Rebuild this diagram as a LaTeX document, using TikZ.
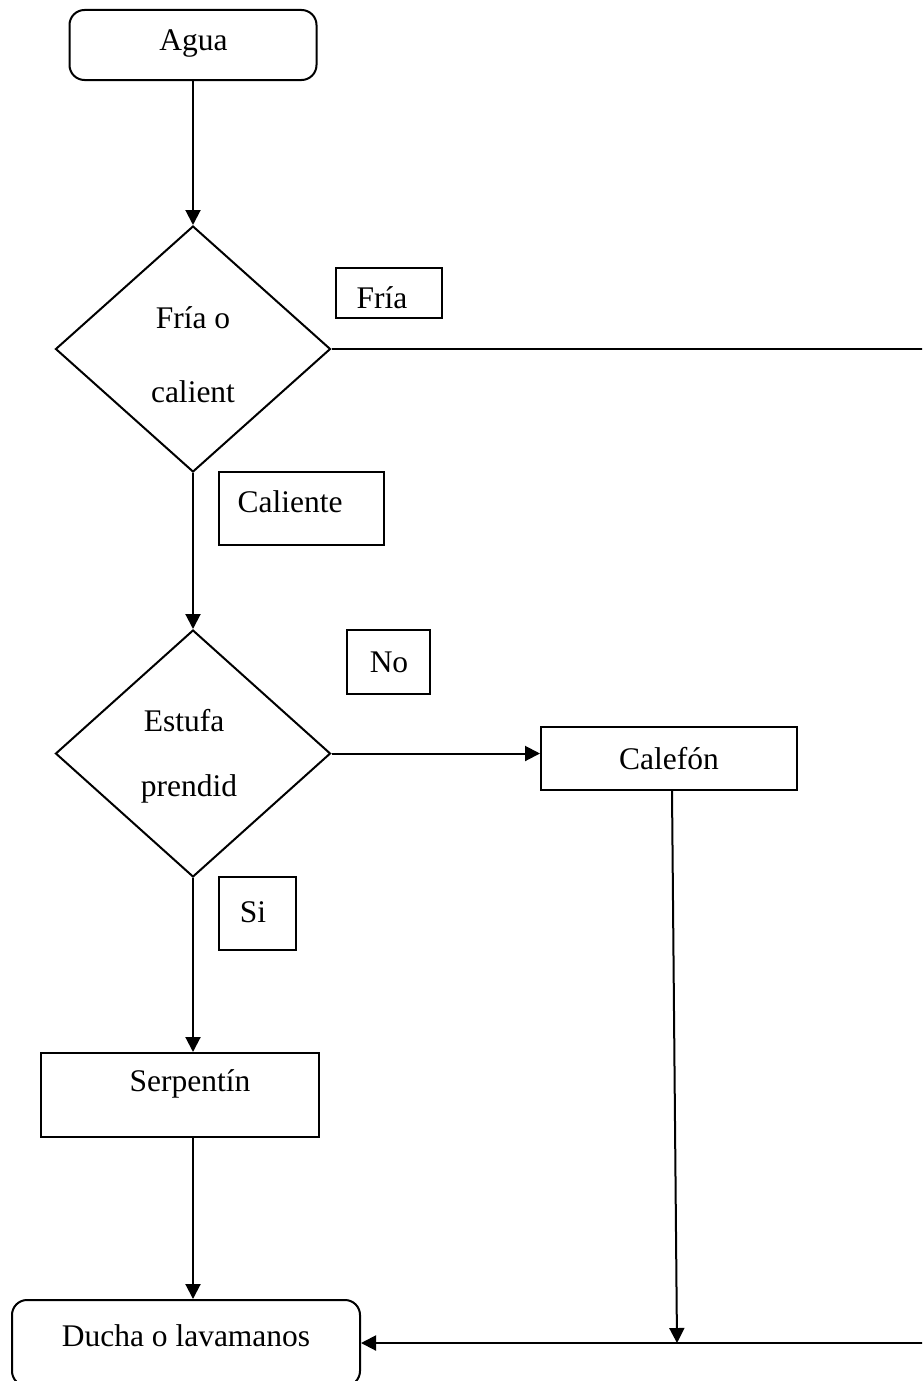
\documentclass[tikz,border=0pt]{standalone}
\usepackage{fontspec}
\setmainfont{Liberation Serif}
\usetikzlibrary{shapes.geometric,arrows.meta}
\begin{document}
\begin{tikzpicture}[x=1pt,y=-1pt,
  line width=2pt,
  txt/.style={inner sep=0pt,font=\fontsize{31.5}{38}\selectfont},
  term/.style={draw,rounded corners=15pt,inner sep=0pt},
  boxn/.style={draw,inner sep=0pt},
  dia/.style={draw,diamond,inner sep=0pt},
  arr/.style={-{Triangle[length=15pt,width=15pt]}}
]
\useasboundingbox (0,0) rectangle (922,1381);
\clip (0,0) rectangle (922,1381);
% shapes
\node[term,minimum width=247pt,minimum height=70pt] (agua) at (193,45) {};
\node[txt] (aguat) at (193.5,44) {Agua};
\node[dia,minimum width=275pt,minimum height=246pt] (d1) at (193,349) {};
\node[txt,align=center,font=\fontsize{31.5}{74}\selectfont] (d1t) at (193,355) {Fría o\\calient};
\node[boxn,minimum width=106pt,minimum height=50pt] (fria) at (389,293) {};
\node[txt] (friat) at (382,298) {Fría};
\node[boxn,minimum width=165pt,minimum height=73pt] (cal) at (301.5,508.5) {};
\node[txt] (calt) at (290,502) {Caliente};
\node[dia,minimum width=275pt,minimum height=247pt] (d2) at (193,753.5) {};
\node[txt,align=center,font=\fontsize{31.5}{65}\selectfont] (d2t) at (189,756) {\hspace*{-10pt}Estufa\\prendid};
\node[boxn,minimum width=83pt,minimum height=64pt] (no) at (388.5,662) {};
\node[txt] (not) at (389,662) {No};
\node[boxn,minimum width=256pt,minimum height=63pt] (calef) at (669,758.5) {};
\node[txt] (caleft) at (669,759) {Calefón};
\node[boxn,minimum width=77pt,minimum height=73pt] (si) at (257.5,913.5) {};
\node[txt] (sit) at (253,912) {Si};
\node[boxn,minimum width=278pt,minimum height=84pt] (serp) at (180,1095) {};
\node[txt] (serpt) at (190,1084) {Serpentín};
\node[term,minimum width=348pt,minimum height=86pt] (ducha) at (186,1343) {};
\node[txt] (duchat) at (186,1336) {Ducha o lavamanos};
% free ends
\coordinate (rtop) at (925,349);
\coordinate (rbot) at (925,1343);
\coordinate (calhit) at (677,1343);
% connectors
\draw[arr] (agua.south) -- (d1.north);
\draw (d1.east) -- (rtop);
\draw[arr] (d1.south) -- (d2.north);
\draw[arr] (d2.east) -- (d2.east -| calef.west);
\draw[arr] ([xshift=3pt]calef.south) -- (calhit);
\draw[arr] (d2.south) -- (serp.north -| d2.south);
\draw[arr] (serp.south -| d2.south) -- (ducha.north -| d2.south);
\draw[arr] (rbot) -- (ducha.east);
\end{tikzpicture}
\end{document}
